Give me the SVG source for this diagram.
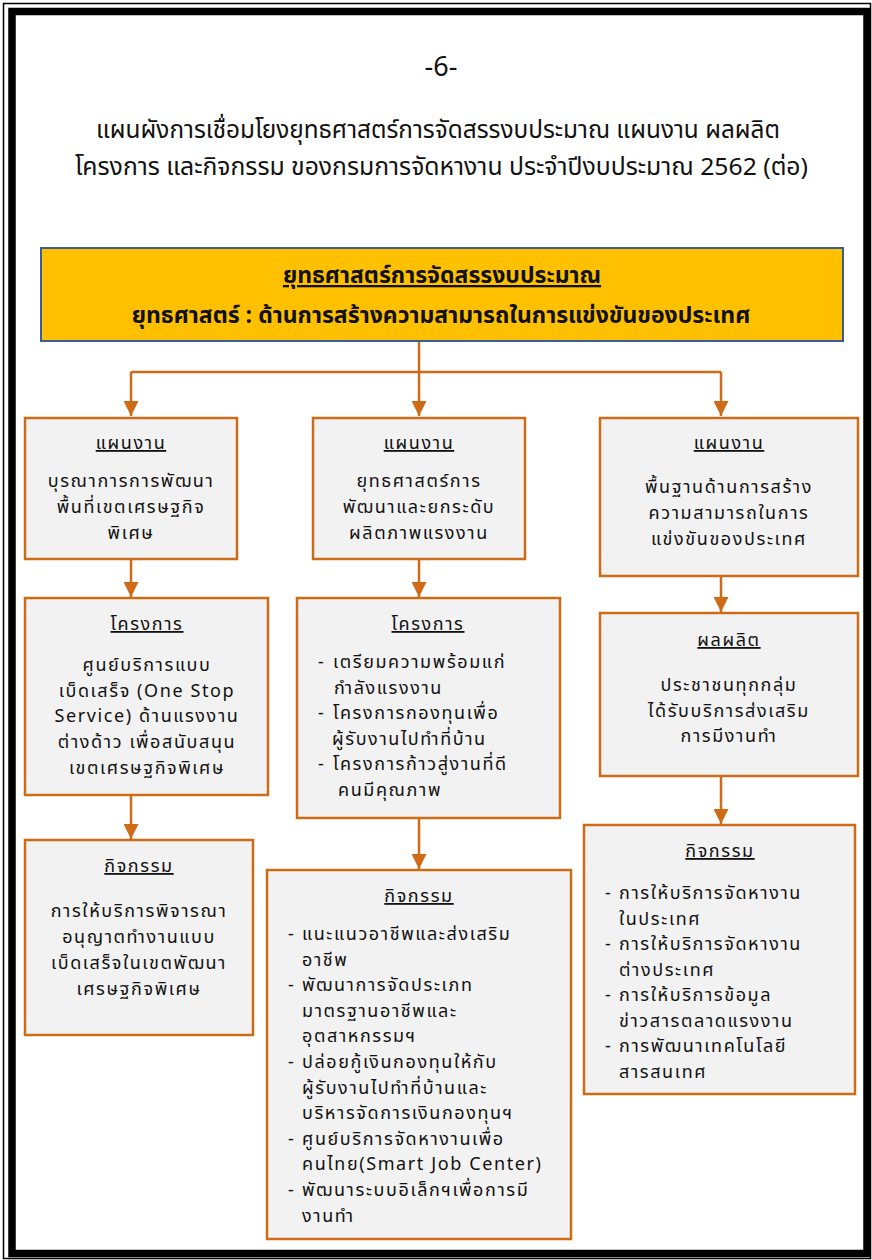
<svg xmlns="http://www.w3.org/2000/svg" width="872" height="1260" viewBox="0 0 872 1260">
<defs>
<style>
.t{font-family:Tahoma,"Noto Sans Thai","Noto Sans","DejaVu Sans",sans-serif;fill:#111;}
.hd{font-size:24px;}
.sb{font-size:23px;font-weight:bold;text-anchor:middle;}
.b{font-size:18px;letter-spacing:1.6px;}
.c{text-anchor:middle;}
.u{text-decoration:underline;}
.box{fill:#F2F2F2;stroke:#CD6B17;stroke-width:2.5;}
.ln{fill:none;stroke:#CD6B17;stroke-width:2.5;}
</style>
<marker id="ah" viewBox="0 0 10 10" refX="10" refY="5" markerWidth="6" markerHeight="6" markerUnits="strokeWidth" orient="auto">
<path d="M0,0 L10,5 L0,10 z" fill="#CD6B17"/>
</marker>
</defs>
<rect x="0" y="0" width="872" height="1260" fill="#fff"/>
<g id="frame">
<rect x="3.5" y="3.5" width="867" height="1255" fill="none" stroke="#000" stroke-width="1.5"/>
<rect x="12" y="11.5" width="855" height="1242" fill="none" stroke="#000" stroke-width="7.5"/>
</g>
<g id="header">
<text class="t" font-size="27" text-anchor="middle" x="441" y="76">-6-</text>
<text class="t hd" x="96" y="138" textLength="684" lengthAdjust="spacingAndGlyphs">แผนผังการเชื่อมโยงยุทธศาสตร์การจัดสรรงบประมาณ แผนงาน ผลผลิต</text>
<text class="t hd" x="75" y="175" textLength="733" lengthAdjust="spacingAndGlyphs">โครงการ และกิจกรรม ของกรมการจัดหางาน ประจำปีงบประมาณ 2562 (ต่อ)</text>
</g>
<g id="connectors">
<path class="ln" d="M419,341 V372 M131,372 H721"/>
<path class="ln" d="M131,372 V416" marker-end="url(#ah)"/>
<path class="ln" d="M419,372 V416" marker-end="url(#ah)"/>
<path class="ln" d="M721,372 V416" marker-end="url(#ah)"/>
<path class="ln" d="M131,560 V597" marker-end="url(#ah)"/>
<path class="ln" d="M131,796 V839" marker-end="url(#ah)"/>
<path class="ln" d="M419,560 V597" marker-end="url(#ah)"/>
<path class="ln" d="M419,818 V869" marker-end="url(#ah)"/>
<path class="ln" d="M721,576 V612" marker-end="url(#ah)"/>
<path class="ln" d="M721,776 V824" marker-end="url(#ah)"/>
</g>
<g id="strategy">
<rect x="41" y="248" width="802" height="93" fill="#FFC000" stroke="#3A5D95" stroke-width="2"/>
<text class="t sb u" x="442" y="283">ยุทธศาสตร์การจัดสรรงบประมาณ</text>
<text class="t sb" x="441" y="323" font-size="23.6">ยุทธศาสตร์ : ด้านการสร้างความสามารถในการแข่งขันของประเทศ</text>
</g>
<g id="plan-left">
<rect class="box" x="25" y="418" width="212" height="141"/>
<text class="t b c u" x="131" y="449">แผนงาน</text>
<text class="t b c" x="131" y="487">บุรณาการการพัฒนา</text>
<text class="t b c" x="131" y="513">พื้นที่เขตเศรษฐกิจ</text>
<text class="t b c" x="131" y="539">พิเศษ</text>
</g>
<g id="plan-middle">
<rect class="box" x="313" y="418" width="212" height="141"/>
<text class="t b c u" x="419" y="449">แผนงาน</text>
<text class="t b c" x="419" y="487">ยุทธศาสตร์การ</text>
<text class="t b c" x="419" y="513">พัฒนาและยกระดับ</text>
<text class="t b c" x="419" y="539">ผลิตภาพแรงงาน</text>
</g>
<g id="plan-right">
<rect class="box" x="600" y="418" width="258" height="158"/>
<text class="t b c u" x="729" y="449">แผนงาน</text>
<text class="t b c" x="729" y="493">พื้นฐานด้านการสร้าง</text>
<text class="t b c" x="729" y="519">ความสามารถในการ</text>
<text class="t b c" x="729" y="545">แข่งขันของประเทศ</text>
</g>
<g id="project-left">
<rect class="box" x="25" y="598" width="243" height="197"/>
<text class="t b c u" x="147" y="630">โครงการ</text>
<text class="t b c" x="147" y="671">ศูนย์บริการแบบ</text>
<text class="t b c" x="147" y="697">เบ็ดเสร็จ (One Stop</text>
<text class="t b c" x="147" y="722">Service) ด้านแรงงาน</text>
<text class="t b c" x="147" y="748">ต่างด้าว เพื่อสนับสนุน</text>
<text class="t b c" x="147" y="774">เขตเศรษฐกิจพิเศษ</text>
</g>
<g id="project-middle">
<rect class="box" x="297" y="598" width="263" height="220"/>
<text class="t b c u" x="428" y="630">โครงการ</text>
<text class="t b" x="318" y="668">-</text>
<text class="t b" x="333" y="668">เตรียมความพร้อมแก่</text>
<text class="t b" x="334" y="693.5">กำลังแรงงาน</text>
<text class="t b" x="318" y="719">-</text>
<text class="t b" x="333" y="719">โครงการกองทุนเพื่อ</text>
<text class="t b" x="332" y="744.5">ผู้รับงานไปทำที่บ้าน</text>
<text class="t b" x="318" y="770">-</text>
<text class="t b" x="333" y="770">โครงการก้าวสู่งานที่ดี</text>
<text class="t b" x="338" y="795.5">คนมีคุณภาพ</text>
</g>
<g id="output-right">
<rect class="box" x="600" y="613" width="258" height="163"/>
<text class="t b c u" x="729" y="646">ผลผลิต</text>
<text class="t b c" x="729" y="691">ประชาชนทุกกลุ่ม</text>
<text class="t b c" x="729" y="716.5">ได้รับบริการส่งเสริม</text>
<text class="t b c" x="729" y="742">การมีงานทำ</text>
</g>
<g id="activity-left">
<rect class="box" x="25" y="840" width="228" height="195"/>
<text class="t b c u" x="139" y="872">กิจกรรม</text>
<text class="t b c" x="139" y="917">การให้บริการพิจารณา</text>
<text class="t b c" x="139" y="943">อนุญาตทำงานแบบ</text>
<text class="t b c" x="139" y="969">เบ็ดเสร็จในเขตพัฒนา</text>
<text class="t b c" x="139" y="995">เศรษฐกิจพิเศษ</text>
</g>
<g id="activity-middle">
<rect class="box" x="267" y="870" width="304" height="369"/>
<text class="t b c u" x="419" y="902">กิจกรรม</text>
<text class="t b" x="288" y="940">-</text>
<text class="t b" x="302" y="940">แนะแนวอาชีพและส่งเสริม</text>
<text class="t b" x="302" y="965.6">อาชีพ</text>
<text class="t b" x="288" y="991.2">-</text>
<text class="t b" x="302" y="991.2">พัฒนาการจัดประเภท</text>
<text class="t b" x="302" y="1016.8">มาตรฐานอาชีพและ</text>
<text class="t b" x="302" y="1042.4">อุตสาหกรรมฯ</text>
<text class="t b" x="288" y="1068">-</text>
<text class="t b" x="302" y="1068">ปล่อยกู้เงินกองทุนให้กับ</text>
<text class="t b" x="302" y="1093.6">ผู้รับงานไปทำที่บ้านและ</text>
<text class="t b" x="302" y="1119.2">บริหารจัดการเงินกองทุนฯ</text>
<text class="t b" x="288" y="1144.8">-</text>
<text class="t b" x="302" y="1144.8">ศูนย์บริการจัดหางานเพื่อ</text>
<text class="t b" x="302" y="1170.4">คนไทย(Smart Job Center)</text>
<text class="t b" x="288" y="1196">-</text>
<text class="t b" x="302" y="1196">พัฒนาระบบอิเล็กฯเพื่อการมี</text>
<text class="t b" x="302" y="1221.6">งานทำ</text>
</g>
<g id="activity-right">
<rect class="box" x="584" y="825" width="271" height="269"/>
<text class="t b c u" x="720" y="857">กิจกรรม</text>
<text class="t b" x="605" y="899">-</text>
<text class="t b" x="619" y="899">การให้บริการจัดหางาน</text>
<text class="t b" x="619" y="924.5">ในประเทศ</text>
<text class="t b" x="605" y="950">-</text>
<text class="t b" x="619" y="950">การให้บริการจัดหางาน</text>
<text class="t b" x="619" y="975.5">ต่างประเทศ</text>
<text class="t b" x="605" y="1001">-</text>
<text class="t b" x="619" y="1001">การให้บริการข้อมูล</text>
<text class="t b" x="619" y="1026.5">ข่าวสารตลาดแรงงาน</text>
<text class="t b" x="605" y="1052">-</text>
<text class="t b" x="619" y="1052">การพัฒนาเทคโนโลยี</text>
<text class="t b" x="619" y="1077.5">สารสนเทศ</text>
</g>
</svg>
